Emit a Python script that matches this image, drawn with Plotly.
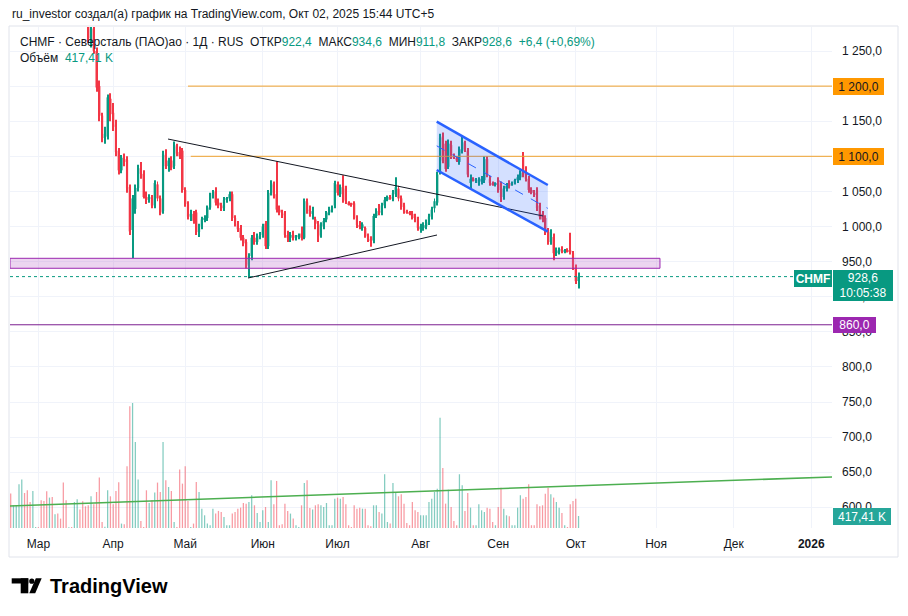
import plotly.graph_objects as go

# ---------------- data ----------------
opens = [1320,1310,1330,1345,1370,1392,1372,1352,1340,1360,1362,1358,1340,1326,1306,1330,1316,1324,1318,1312,1300,1296,1298,1300,1326,1338,1322,1306,
         1300,1262,1282,1250,1200,1158,1126,1128,1182,1162,1145,1108,1080,1096,1095,1056,995,1025,1055,1083,1075,1042,1040,1040,1030,1060,1040,1022,1102,1086,1094,1086,
         1114,1106,1108,1052,1032,1014,1018,1020,992,1000,1010,1012,1027,1045,1050,1034,1030,1026,1038,1040,1046,1012,1004,998,984,978,946,958,984,978,
         986,988,1004,972,1048,1060,1046,1024,1020,1018,988,984,988,984,986,990,984,1034,1024,1018,1010,1004,988,1000,1010,1020,1024,1030,1060,1046,
         1058,1054,1034,1032,1033,1012,1002,998,998,986,982,980,1015,1022,1020,1030,1038,1042,1040,1046,1054,1040,1030,1022,1020,1018,1014,1010,996,998,
         1000,1006,1014,1026,1034,1078,1128,1118,1085,1116,1100,1098,1092,1108,1118,1108,1062,1068,1066,1062,1064,1066,1096,1068,1062,1060,1066,1060,1042,1054,
         1062,1060,1062,1066,1070,1100,1080,1068,1052,1048,1052,1030,1018,1012,995,978,985,962,964,968,965,966,966,962,942,922.4]
highs = [1340,1335,1350,1375,1398,1400,1380,1360,1365,1364,1364,1362,1346,1330,1334,1336,1328,1328,1322,1316,1306,1300,1300,1330,1342,1342,1326,1312,
         1306,1290,1292,1255,1208,1162,1142,1188,1190,1176,1152,1112,1102,1104,1100,1060,1045,1060,1088,1092,1080,1050,1046,1045,1066,1064,1044,1108,1110,1098,1100,1121,
         1118,1114,1112,1056,1036,1024,1022,1024,1004,1014,1016,1030,1048,1052,1056,1040,1034,1042,1042,1050,1050,1016,1008,1002,988,982,962,988,992,990,
         992,1004,1008,1052,1066,1064,1093,1030,1024,1022,994,992,994,988,990,1000,1040,1040,1030,1028,1014,1008,1006,1012,1022,1028,1030,1065,1064,1060,
         1073,1058,1036,1034,1036,1016,1008,1006,1000,990,986,1018,1026,1032,1034,1042,1044,1045,1052,1070,1058,1044,1034,1024,1022,1022,1018,1014,1004,1006,
         1010,1018,1028,1040,1078,1132,1134,1122,1124,1122,1104,1100,1114,1130,1122,1112,1074,1070,1069,1070,1072,1100,1100,1072,1064,1063,1070,1064,1058,1062,
         1066,1064,1068,1074,1080,1106,1086,1072,1056,1052,1056,1034,1022,1016,998,996,990,970,970,972,968,969,991,965,946,934.6]
lows = [1305,1302,1322,1340,1362,1366,1348,1334,1336,1356,1356,1336,1322,1302,1300,1312,1312,1312,1308,1296,1292,1294,1294,1296,1320,1318,1302,1295,
        1262,1255,1246,1192,1150,1120,1118,1124,1150,1136,1100,1074,1076,1086,1048,988,955,1018,1050,1068,1040,1032,1034,1026,1026,1036,1016,1018,1082,1078,1080,1082,
        1100,1096,1048,1028,1010,1008,1004,988,985,996,1006,1008,1024,1040,1030,1026,1022,1022,1034,1036,1008,1000,992,980,972,940,927,952,974,974,
        982,984,968,968,1044,1040,1020,1016,1012,984,978,978,980,980,982,980,982,1018,1014,1010,996,978,984,996,1006,1016,1020,1026,1044,1042,
        1034,1032,1030,1028,1010,998,996,994,984,978,971,976,1012,1016,1016,1026,1036,1038,1036,1042,1036,1024,1018,1018,1016,1010,1006,994,991,994,
        996,1002,1010,1020,1030,1074,1090,1078,1082,1096,1096,1092,1088,1104,1106,1070,1054,1064,1062,1058,1060,1062,1070,1058,1058,1057,1048,1035,1038,1050,
        1054,1058,1060,1062,1066,1070,1064,1048,1046,1042,1022,1010,1006,988,974,974,952,958,960,962,962,963,960,938,918,911.8]
closes = [1310,1330,1345,1370,1392,1372,1352,1340,1360,1362,1358,1340,1326,1306,1330,1316,1324,1318,1312,1300,1296,1298,1296,1326,1338,1322,1306,1300,
          1268,1282,1250,1198,1158,1126,1132,1184,1160,1142,1106,1080,1098,1092,1054,993,1040,1055,1083,1075,1042,1038,1042,1030,1062,1040,1020,1104,1086,1094,1084,1116,
          1104,1100,1052,1032,1014,1018,1008,992,1000,1010,1012,1027,1045,1048,1034,1030,1026,1038,1040,1046,1012,1004,996,984,976,944,958,984,978,986,
          988,1000,972,1048,1062,1044,1024,1020,1016,988,984,988,984,986,987,984,1036,1022,1018,1022,1004,986,1002,1008,1020,1024,1028,1062,1048,1056,
          1038,1036,1032,1031,1012,1002,1000,1003,986,982,980,1015,1022,1020,1030,1038,1042,1040,1048,1056,1040,1028,1022,1020,1018,1012,1010,998,1000,1002,
          1006,1014,1024,1036,1074,1126,1094,1082,1118,1100,1098,1094,1110,1120,1110,1074,1068,1066,1067,1066,1068,1096,1074,1062,1060,1061,1052,1042,1054,1058,
          1058,1062,1066,1070,1077,1074,1068,1052,1048,1046,1026,1014,1010,992,978,992,962,966,968,965,966,965,963,942,922.2,928.6]
volumes_k = [1197,790,790,1521,1684,1218,1312,905,1288,35,30,964,940,1277,1058,1079,477,501,327,1580,964,25,35,905,998,640,929,755,790,1103,
             825,1253,1754,209,40,1312,1103,825,1288,1590,153,129,2147,4235,4350,2993,1684,244,35,1312,870,964,1232,1580,1253,2993,1661,1427,1288,209,
             35,2032,1544,2147,940,35,153,1602,1253,673,442,153,96,673,501,594,559,385,96,96,501,559,673,709,870,848,905,1137,790,524,
             209,616,732,209,1661,825,1637,96,129,848,594,501,327,96,35,790,1567,1661,697,640,790,825,790,732,870,96,96,1021,1058,1021,
             1079,825,96,35,790,673,709,673,673,96,60,790,790,559,501,1870,209,153,1567,1253,1103,1172,848,174,96,905,616,559,442,442,
             442,905,1021,1253,1369,3841,2089,848,1335,732,244,96,1870,1486,594,1218,709,96,96,825,616,559,709,673,209,96,732,1404,673,442,
             407,96,96,709,1137,1021,1079,1521,96,96,825,755,790,1195,1404,1172,1058,905,709,524,96,35,825,940,1021,417.41]

month_labels = ["Мар", "Апр", "Май", "Июн", "Июл", "Авг", "Сен", "Окт", "Ноя", "Дек", "<b>2026</b>"]
month_bar_index = [10, 37, 63, 91, 118, 148, 176, 204, 233, 261, 289]
price_ticks = [600, 650, 700, 750, 800, 850, 900, 950, 1000, 1050, 1100, 1150, 1200, 1250]

# drawings (price levels / trendlines, in bar-index & price units)
resistance_levels = [(1200, 64), (1100, 65)]          # level, start bar
support_zone = (940.5, 954.7, 234.4)                  # low, high, end bar
level_860 = 860
tri_upper = [(56.8, 1124.6), (192.2, 1015.0)]
tri_lower = [(85.7, 926.6), (153.9, 987.9)]
chan_top = [(153.8, 1149.3), (193.9, 1059.1)]
chan_bot = [(153.8, 1080.5), (193.9, 992.6)]
long_trend = [(-0.25, 601.9), (296.5, 643.3)]

# ---------------- layout helpers ----------------
W, H = 908, 616
PL, PR, PT, PB = 10, 832, 27, 528
X_RANGE = [-0.25, 296.5]
Y_RANGE = [570.5, 1284.2]
VOL_MAX = 17435

def px(x):
    return (x - PL) / (PR - PL)

def py(y):
    return 1 - (y - PT) / (PB - PT)

def fmt(v):
    s = f"{v:,.1f}"
    return s.replace(",", "\u00a0").replace(".", ",")

def fmt_plain(v):
    return f"{v:.1f}".replace(".", ",")

UP, DOWN = "#089981", "#F23645"
TXT = "#131722"
FONT = "Liberation Sans, Arial, sans-serif"

idx = list(range(len(closes)))
is_up = [c >= o for o, c in zip(opens, closes)]
cand_colors = [UP if u else DOWN for u in is_up]
vol_colors = ["rgba(8,153,129,0.5)" if u else "rgba(242,54,69,0.5)" for u in is_up]
body_base = [min(o, c) for o, c in zip(opens, closes)]
body_len = [max(abs(c - o), 1.3) for o, c in zip(opens, closes)]
wick_len = [h - l for h, l in zip(highs, lows)]

fig = go.Figure()
fig.add_trace(go.Bar(x=idx, y=volumes_k, marker=dict(color=vol_colors, line=dict(width=0)),
                     width=0.45, yaxis="y2", hoverinfo="skip", showlegend=False))
# candles: wicks then bodies, on the price axis
fig.add_trace(go.Bar(x=idx, y=wick_len, base=lows, width=0.36, marker=dict(color=cand_colors, line=dict(width=0)),
                     hoverinfo="skip", showlegend=False))
fig.add_trace(go.Bar(x=idx, y=body_len, base=body_base, width=0.78, marker=dict(color=cand_colors, line=dict(width=0)),
                     hoverinfo="skip", showlegend=False))

shapes = []
shapes.append(dict(type="rect", xref="paper", yref="paper", x0=px(9), x1=px(898), y0=py(26), y1=py(557),
                   line=dict(color="#e0e3eb", width=1), fillcolor="rgba(0,0,0,0)", layer="below"))
lo, hi, end = support_zone
shapes.append(dict(type="rect", xref="x", yref="y", x0=X_RANGE[0], x1=end, y0=lo, y1=hi,
                   line=dict(color="#9c27b0", width=1), fillcolor="rgba(186,104,200,0.28)", layer="above"))
for lvl, start in resistance_levels:
    shapes.append(dict(type="line", xref="x", yref="y", x0=start, x1=X_RANGE[1], y0=lvl, y1=lvl,
                       line=dict(color="#EFA02C", width=1), layer="above"))
shapes.append(dict(type="line", xref="x", yref="y", x0=X_RANGE[0], x1=X_RANGE[1], y0=level_860, y1=level_860,
                   line=dict(color="#7b1f8f", width=1), layer="above"))
shapes.append(dict(type="line", xref="x", yref="y", x0=X_RANGE[0], x1=X_RANGE[1], y0=closes[-1], y1=closes[-1],
                   line=dict(color=UP, width=1, dash="dot"), layer="above"))
for seg in (tri_upper, tri_lower):
    shapes.append(dict(type="line", xref="x", yref="y", x0=seg[0][0], y0=seg[0][1], x1=seg[1][0], y1=seg[1][1],
                       line=dict(color=TXT, width=1), layer="above"))
path = (f"M {chan_top[0][0]},{chan_top[0][1]} L {chan_top[1][0]},{chan_top[1][1]} "
        f"L {chan_bot[1][0]},{chan_bot[1][1]} L {chan_bot[0][0]},{chan_bot[0][1]} Z")
shapes.append(dict(type="path", xref="x", yref="y", path=path, line=dict(width=0),
                   fillcolor="rgba(41,98,255,0.2)", layer="above"))
for seg in (chan_top, chan_bot):
    shapes.append(dict(type="line", xref="x", yref="y", x0=seg[0][0], y0=seg[0][1], x1=seg[1][0], y1=seg[1][1],
                       line=dict(color="#2962ff", width=2.5), layer="above"))
mid = [(chan_top[0][0], (chan_top[0][1] + chan_bot[0][1]) / 2), (chan_top[1][0], (chan_top[1][1] + chan_bot[1][1]) / 2)]
shapes.append(dict(type="line", xref="x", yref="y", x0=mid[0][0], y0=mid[0][1], x1=mid[1][0], y1=mid[1][1],
                   line=dict(color="#2962ff", width=1, dash="dash"), layer="above"))
shapes.append(dict(type="line", xref="x", yref="y", x0=long_trend[0][0], y0=long_trend[0][1],
                   x1=long_trend[1][0], y1=long_trend[1][1], line=dict(color="#4caf50", width=1.5), layer="above"))
# TradingView logo icon
shapes.append(dict(type="rect", xref="paper", yref="paper", x0=px(11.7), x1=px(28.3), y0=py(583.5), y1=py(578.3),
                   line=dict(width=0), fillcolor="#000000"))
shapes.append(dict(type="rect", xref="paper", yref="paper", x0=px(20.7), x1=px(28.3), y0=py(593.3), y1=py(578.3),
                   line=dict(width=0), fillcolor="#000000"))
shapes.append(dict(type="circle", xref="paper", yref="paper", x0=px(29.2), x1=px(34.4), y0=py(583.8), y1=py(578.6),
                   line=dict(width=0), fillcolor="#000000"))
shapes.append(dict(type="path", xref="paper", yref="paper",
                   path=f"M {px(29.3)},{py(593.3)} L {px(35.2)},{py(593.3)} L {px(41.7)},{py(578.3)} L {px(35.8)},{py(578.3)} Z",
                   line=dict(width=0), fillcolor="#000000"))

ann = []
ann.append(dict(xref="paper", yref="paper", x=px(10), y=py(14), xanchor="left", yanchor="middle", showarrow=False,
                text="ru_investor создал(а) график на TradingView.com, Окт 02, 2025 15:44 UTC+5",
                font=dict(family=FONT, size=12, color=TXT)))
g = lambda s: f"<span style='color:{UP}'>{s}</span>"
chg = closes[-1] - closes[-2]
pct = chg / closes[-2] * 100
sp = "\u00a0\u00a0"
legend_text = (f"CHMF · Северсталь (ПАО)ао · 1Д · RUS{sp}ОТКР{g(fmt_plain(opens[-1]))}{sp}МАКС{g(fmt_plain(highs[-1]))}"
               f"{sp}МИН{g(fmt_plain(lows[-1]))}{sp}ЗАКР{g(fmt_plain(closes[-1]))}{sp}"
               f"{g('+' + fmt_plain(chg) + ' (+' + f'{pct:.2f}'.replace('.', ',') + '%)')}")
ann.append(dict(xref="paper", yref="paper", x=px(18), y=py(42), xanchor="left", yanchor="middle", showarrow=False,
                text=legend_text, font=dict(family=FONT, size=12, color=TXT)))
vol_last = f"{volumes_k[-1]:.2f}".replace(".", ",") + "\u00a0K"
ann.append(dict(xref="paper", yref="paper", x=px(18), y=py(58), xanchor="left", yanchor="middle", showarrow=False,
                text=f"Объём{sp}{g(vol_last)}", font=dict(family=FONT, size=12, color=TXT)))

def box(x0, w, h, yref, y, text, bg, color, bold=False):
    ann.append(dict(xref="paper", yref=yref, x=px(x0), y=y, xanchor="left", yanchor="middle", showarrow=False,
                    text=(f"<b>{text}</b>" if bold else text), bgcolor=bg, width=w, height=h, borderpad=0,
                    borderwidth=0, align="center", font=dict(family=FONT, size=12, color=color)))

for lvl, _ in resistance_levels:
    box(833, 51, 17, "y", lvl, fmt(lvl), "#FF9800", TXT)
box(833, 43, 16, "y", level_860, fmt(level_860), "#9c27b0", "#ffffff")
box(794, 38, 17, "paper", py(278.5), "CHMF", UP, "#ffffff", bold=True)
box(833, 60, 31, "paper", py(285.5), f"{fmt_plain(closes[-1])}<br>10:05:38", UP, "#ffffff")
box(833, 58, 17, "paper", py(516.5), vol_last, "#26a69a", "#ffffff")

ann.append(dict(xref="paper", yref="paper", x=px(48), y=py(586), xanchor="left", yanchor="middle", showarrow=False,
                text="<b>TradingView</b>", font=dict(family=FONT, size=20, color="#000000")))

# price labels hidden where a level box already shows the value
boxed_levels = [lvl for lvl, _ in resistance_levels]
tick_text = ["" if v in boxed_levels else fmt(v) for v in price_ticks]

fig.update_layout(
    width=W, height=H, autosize=False,
    margin=dict(l=PL, r=W - PR, t=PT, b=H - PB, pad=0),
    paper_bgcolor="#ffffff", plot_bgcolor="#ffffff",
    showlegend=False, barmode="overlay",
    font=dict(family=FONT, size=12, color=TXT),
    xaxis=dict(range=X_RANGE, tickmode="array", tickvals=month_bar_index, ticktext=month_labels,
               showgrid=True, gridcolor="#f0f3fa", gridwidth=1, zeroline=False, showline=False, ticks="",
               ticklabelstandoff=7, tickfont=dict(size=12, color=TXT), fixedrange=True),
    yaxis=dict(range=Y_RANGE, side="right", tickmode="array", tickvals=price_ticks,
               ticktext=tick_text, showgrid=True, gridcolor="#f0f3fa", gridwidth=1,
               zeroline=False, showline=False, ticks="", ticklabelstandoff=9,
               tickfont=dict(size=12, color=TXT), fixedrange=True),
    yaxis2=dict(range=[0, VOL_MAX], overlaying="y", visible=False, fixedrange=True),
    shapes=shapes, annotations=ann,
)

fig.write_html("out.html")
